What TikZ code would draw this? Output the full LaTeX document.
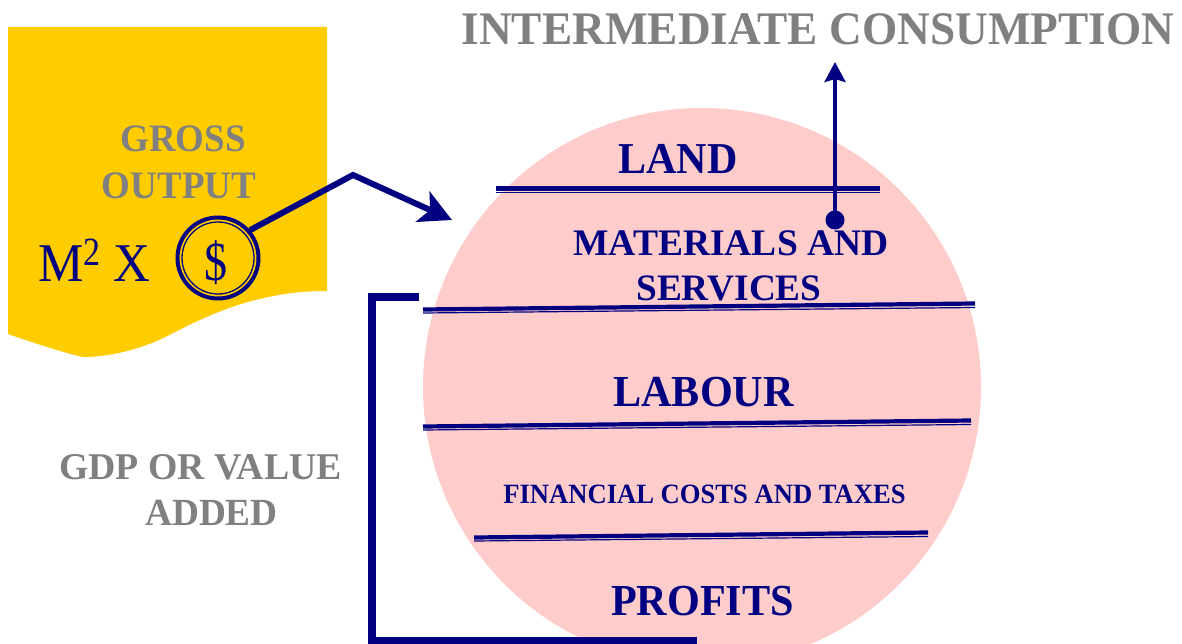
\documentclass[tikz,border=0pt]{standalone}
\usepackage{fontspec}
\usepackage{graphicx}
\setmainfont{Liberation Serif}
\usetikzlibrary{arrows.meta}
\definecolor{navyc}{HTML}{000080}
\definecolor{grayc}{HTML}{808080}
\definecolor{goldc}{HTML}{FFCC00}
\definecolor{pinkc}{HTML}{FFCCCC}
\newcommand{\fsz}[1]{\fontsize{#1pt}{#1pt}\selectfont}
\newcommand{\tall}[2]{\scalebox{1}[#1]{#2}}
\tikzset{
  lab/.style={anchor=base,inner sep=0pt,outer sep=0pt,font=\bfseries\fsz{#1},text=navyc},
  glab/.style={anchor=base,inner sep=0pt,outer sep=0pt,font=\bfseries\fsz{#1},text=grayc},
  thickrule/.style={navyc,line width=4.2pt},
  thinrule/.style={navyc,line width=1.2pt},
}
\begin{document}
\begin{tikzpicture}[x=1pt,y=-1pt]
\useasboundingbox (0,0) rectangle (1182,644);
\fill[white] (0,0) rectangle (1182,644);
% gold sheet
\fill[goldc] (8,27) -- (327,27) -- (327,291)
  .. controls (300,291) and (280,294) .. (260,299)
  .. controls (240,303) and (215,313) .. (200,320)
  .. controls (190,324) and (182,329) .. (173,333)
  .. controls (150,346) and (115,357) .. (83,357)
  .. controls (65,353) and (40,345) .. (8,334) -- cycle;
% pink circle
\node[circle,fill=pinkc,minimum size=558pt,inner sep=0pt] (pie) at (702,387) {};
% labels in the sheet
\node[glab=37] (gross) at (183,152) {\tall{1.05}{GROSS}};
\node[glab=37] (output) at (179,199) {\tall{1.05}{OUTPUT}};
\node[anchor=base west,inner sep=0pt,font=\fsz{51},text=navyc] (mx) at (38,281) {\tall{1.07}{M\raisebox{0.29em}{\fsz{34}\tall{1.1}{2}} X}};
\node[circle,draw=navyc,line width=4pt,minimum size=81pt,inner sep=0pt,outer sep=2pt] (coin) at (218,258) {};
\node[circle,draw=navyc,line width=1.3pt,minimum size=72pt,inner sep=0pt] (coinin) at (218,258) {};
\node[anchor=base,inner sep=0pt,font=\fsz{46},text=navyc] (dollar) at (216,280) {\tall{1.2}{\$}};
% title and other labels
\node[glab=45.3] (title) at (818,45) {\tall{1.03}{INTERMEDIATE CONSUMPTION}};
\node[lab=42] (land) at (678,174) {\tall{1.05}{LAND}};
\node[lab=37.5] (mat) at (731,255) {MATERIALS AND};
\node[lab=37.3] (serv) at (729,300.5) {SERVICES};
\node[lab=42.2] (labour) at (703.5,406) {\tall{1.05}{LABOUR}};
\node[lab=26.6] (fin) at (704.5,503) {\tall{1.05}{FINANCIAL COSTS AND TAXES}};
\node[lab=42.2] (profits) at (702.5,615) {\tall{1.05}{PROFITS}};
\node[glab=37.8] (gdp) at (200.5,479) {GDP OR VALUE};
\node[glab=37.3] (added) at (211.5,525) {\tall{1.03}{ADDED}};
% rules
\coordinate (l1a) at (496,188.5); \coordinate (l1b) at (880,188.5);
\coordinate (l1c) at (496,192.3); \coordinate (l1d) at (880,192.3);
\coordinate (l2a) at (423,309.5); \coordinate (l2b) at (975,303.5);
\coordinate (l2c) at (423,313); \coordinate (l2d) at (975,307.5);
\coordinate (l3a) at (423,426.5); \coordinate (l3b) at (971,420.5);
\coordinate (l3c) at (423,430); \coordinate (l3d) at (971,424.5);
\coordinate (l4a) at (474,537.5); \coordinate (l4b) at (928,532.5);
\coordinate (l4c) at (474,541); \coordinate (l4d) at (928,536.5);
\draw[thickrule] (l1a) -- (l1b); \draw[thinrule] (l1c) -- (l1d);
\draw[thickrule] (l2a) -- (l2b); \draw[thinrule] (l2c) -- (l2d);
\draw[thickrule] (l3a) -- (l3b); \draw[thinrule] (l3c) -- (l3d);
\draw[thickrule] (l4a) -- (l4b); \draw[thinrule] (l4c) -- (l4d);
% arrow from coin
\coordinate (bend) at (353,175);
\coordinate (tip) at (452,220);
\draw[navyc,line width=6pt,miter limit=10,-{Stealth[length=32pt,width=33pt,inset=8pt]}] (coin.41) -- (bend) -- (tip);
% intermediate consumption arrow
\node[circle,fill=navyc,minimum size=19pt,inner sep=0pt] (dot) at (835,220) {};
\coordinate (up) at (835,62);
\draw[navyc,line width=4pt,-{Stealth[length=20pt,width=21pt,inset=3pt]}] (dot.center) -- (up);
% value added bracket
\coordinate (b1) at (419,297); \coordinate (b2) at (372,297);
\coordinate (b3) at (372,641); \coordinate (b4) at (697,641);
\draw[navyc,line width=7.5pt] (b1) -- (b2) -- (b3) -- (b4);
\end{tikzpicture}
\end{document}
